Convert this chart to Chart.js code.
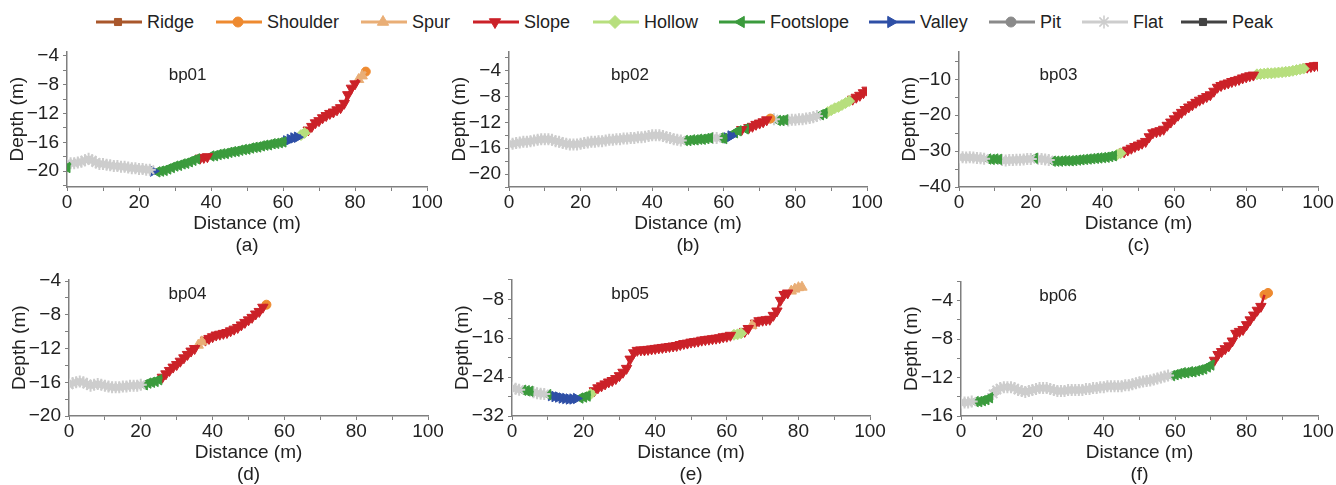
<!DOCTYPE html>
<html>
<head>
<meta charset="utf-8">
<script src="https://cdn.jsdelivr.net/npm/chart.js"></script>
<style>
  html, body { margin: 0; padding: 0; background: #fff; }
  body { width: 1336px; height: 485px; position: relative; overflow: hidden;
         font-family: "Liberation Sans", Arial, sans-serif; color: #222; }
  .panel { position: absolute; }
  .legend-item { position: absolute; top: 10px; height: 24px; display: flex; align-items: center;
                 font-size: 18px; white-space: nowrap; }
  .legend-item canvas { margin-right: 5px; }
</style>
</head>
<body>
<div id="legend"></div>
<div id="panels"></div>
<script>
  // landform classes (legend order)
  const classNames = ['Ridge', 'Shoulder', 'Spur', 'Slope', 'Hollow', 'Footslope', 'Valley', 'Pit', 'Flat', 'Peak'];
  const classColors = ['#a9572b', '#ee8a30', '#e9ae76', '#cb2128', '#b7df7e', '#3b9b3d', '#2e4fa6', '#8a8a8a', '#cdcdcd', '#424242'];
  const classMarkers = ['rect', 'circle', 'triangle', 'triangle', 'rectRot', 'triangle', 'triangle', 'circle', 'star', 'rect'];
  const classRotation = [0, 0, 0, 180, 0, 270, 90, 0, 0, 0];

  // profiles are sampled every 1 m along distance
  const sampleStep = 1;
  const xRange = [0, 100];
  const xTicks = [0, 20, 40, 60, 80, 100];
  const xMinorTicks = [10, 30, 50, 70, 90];

  // bp01
  const bp01Depth = [-19.5,
    -18.9, -18.9, -18.8, -18.7, -18.5, -18.3, -18.5, -18.8, -19.0, -19.0, -19.1, -19.2, -19.3, -19.3, -19.4, -19.4, -19.5, -19.6, -19.6, -19.7, -19.7, -19.8, -19.8,
    -20.0,
    -20.1, -20.0, -19.9, -19.7, -19.5, -19.3, -19.2, -19.0, -18.9, -18.7, -18.5, -18.3,
    -18.2, -18.1, -18.0,
    -17.9, -17.85, -17.7, -17.6, -17.55, -17.4, -17.3, -17.25, -17.1, -17.0, -16.95, -16.8, -16.7, -16.65, -16.5, -16.4, -16.35, -16.2, -16.15, -16.05, -15.95,
    -15.8, -15.6, -15.4, -15.3,
    -15.0, -14.7,
    -14.3, -13.8, -13.3, -13.0, -12.6, -12.3, -12.0, -11.8, -11.5, -11.2, -10.6, -9.4, -8.5, -7.9,
    -7.3, -6.8,
    -6.2];
  const bp01Classes = [['Footslope', 1], ['Flat', 23], ['Valley', 1], ['Footslope', 12], ['Slope', 3], ['Footslope', 21],
    ['Valley', 4], ['Hollow', 2], ['Slope', 14], ['Spur', 2], ['Shoulder', 1]];
  const bp01Range = [-22.2, -3.4];
  const bp01YTicks = [-20, -16, -12, -8, -4];
  const bp01YMinor = [-22, -18, -14, -10, -6];

  // bp02
  const bp02Depth = [
    -15.4, -15.3, -15.2, -15.1, -15.0, -15.0, -14.9, -14.8, -14.7, -14.6, -14.6, -14.6, -14.7, -14.9, -15.0, -15.2, -15.3, -15.4, -15.4, -15.4,
    -15.3, -15.2, -15.1, -15.0, -15.0, -14.9, -14.9, -14.8, -14.7, -14.7, -14.6, -14.6, -14.5, -14.5, -14.4, -14.4, -14.3, -14.3, -14.2, -14.1,
    -14.0, -14.0, -14.0, -14.1, -14.3, -14.4, -14.6, -14.7, -14.8,
    -14.8, -14.8, -14.7, -14.7, -14.6, -14.6, -14.5, -14.4,
    -14.4, -14.4,
    -14.4, -14.5,
    -14.4, -14.1,
    -13.6, -13.3,
    -13.1,
    -13.0,
    -12.8, -12.6, -12.3, -12.1, -11.9, -11.6,
    -11.4,
    -11.5,
    -11.7, -11.7, -11.6,
    -11.7, -11.6, -11.6, -11.5, -11.5, -11.4, -11.3, -11.2, -11.0,
    -10.8, -10.6,
    -10.4, -10.1, -9.8, -9.6, -9.3, -9.0, -8.7,
    -8.4, -8.1, -7.8, -7.4, -7.0];
  const bp02Classes = [['Flat', 49], ['Footslope', 8], ['Flat', 2], ['Footslope', 2], ['Valley', 2], ['Footslope', 2], ['Slope', 1],
    ['Footslope', 1], ['Slope', 6], ['Shoulder', 1], ['Flat', 1], ['Footslope', 3], ['Flat', 9], ['Footslope', 2], ['Hollow', 7], ['Slope', 5]];
  const bp02Range = [-22, -1];
  const bp02YTicks = [-20, -16, -12, -8, -4];
  const bp02YMinor = [-22, -18, -14, -10, -6, -2];

  // bp03
  const bp03Depth = [
    -31.7, -31.7, -31.8, -31.7, -31.8, -31.9, -32.0, -32.1,
    -32.2, -32.3, -32.2, -32.3,
    -32.5, -32.6, -32.5, -32.5, -32.4, -32.4, -32.3, -32.2, -32.2,
    -32.0,
    -32.1, -32.2, -32.3, -32.5,
    -32.8, -32.8, -32.8, -32.7, -32.7, -32.7, -32.6, -32.5, -32.4, -32.3, -32.2, -32.1, -32.0, -31.9, -31.8, -31.7, -31.5, -31.3,
    -31.0, -30.6,
    -30.2, -29.7, -29.2, -28.7, -28.3, -27.8, -27.3, -26.0, -24.9, -24.6, -24.3, -23.9, -22.8, -21.9, -21.0, -20.0, -19.2, -18.4, -17.7,
    -17.1, -16.4, -15.8, -15.3, -14.8, -14.3, -13.3, -12.2, -11.7, -11.3, -11.0, -10.6, -10.3, -10.0, -9.6, -9.3, -9.0, -8.8,
    -8.6, -8.5, -8.4, -8.3, -8.3, -8.2, -8.1, -8.0, -7.9, -7.8, -7.6, -7.4, -7.2, -7.0,
    -6.6, -6.4, -6.2, -6.1];
  const bp03Classes = [['Flat', 8], ['Footslope', 4], ['Flat', 9], ['Footslope', 1], ['Flat', 4], ['Footslope', 18],
    ['Hollow', 2], ['Slope', 37], ['Hollow', 14], ['Slope', 4]];
  const bp03Range = [-40, -2.2];
  const bp03YTicks = [-40, -30, -20, -10];
  const bp03YMinor = [-35, -25, -15, -5];

  // bp04
  const bp04Depth = [
    -16.3, -16.1, -16.0, -15.9, -16.0, -16.2, -16.4, -16.3, -16.2, -16.3, -16.4, -16.5, -16.6, -16.6, -16.6, -16.5, -16.5, -16.4, -16.4, -16.4, -16.3,
    -16.3, -16.1, -16.0, -15.9, -15.7,
    -15.4, -15.0, -14.6, -14.2, -13.9, -13.5, -13.1, -12.7, -12.3, -12.0,
    -11.6, -11.2,
    -11.0, -10.8, -10.6, -10.4, -10.3, -10.2, -10.1, -9.9, -9.7, -9.5, -9.2, -8.9, -8.6, -8.3, -7.9, -7.6, -7.1,
    -6.8];
  const bp04Classes = [['Flat', 21], ['Footslope', 5], ['Slope', 10], ['Spur', 2], ['Slope', 17], ['Shoulder', 1]];
  const bp04Range = [-20, -3.8];
  const bp04YTicks = [-20, -16, -12, -8, -4];
  const bp04YMinor = [-18, -14, -10, -6];

  // bp05
  const bp05Depth = [
    -26.2, -26.4, -26.6,
    -26.7, -26.8, -26.9,
    -27.1, -27.3, -27.4, -27.5,
    -27.6,
    -27.8, -28.0, -28.1, -28.3, -28.4, -28.5, -28.5, -28.4,
    -28.3, -28.1, -27.9,
    -27.5,
    -26.8, -26.2, -25.8, -25.4, -25.0, -24.7, -24.3, -23.7, -23.0, -22.2, -20.3, -19.0, -18.5, -18.4, -18.4, -18.3, -18.2, -18.1, -18.0,
    -17.9, -17.8, -17.7, -17.6, -17.5, -17.3, -17.1, -17.0, -16.8, -16.7, -16.6, -16.4, -16.3, -16.2, -16.1, -16.0, -15.9, -15.7, -15.6, -15.4,
    -15.3, -15.2, -15.0,
    -14.6, -14.0,
    -13.4,
    -12.9, -12.4, -12.3, -12.2, -12.1, -11.3, -10.4, -8.2, -7.0, -6.7,
    -6.3, -5.9, -5.6, -5.5];
  const bp05Classes = [['Flat', 3], ['Footslope', 3], ['Flat', 4], ['Footslope', 1], ['Valley', 8], ['Footslope', 3], ['Hollow', 1],
    ['Slope', 39], ['Hollow', 3], ['Slope', 2], ['Spur', 1], ['Slope', 10], ['Spur', 4]];
  const bp05Range = [-32, -3.9];
  const bp05YTicks = [-32, -24, -16, -8];
  const bp05YMinor = [-28, -20, -12, -4];

  // bp06
  const bp06Depth = [
    -14.6, -14.6, -14.6, -14.5,
    -14.5, -14.5, -14.4, -14.3, -14.1,
    -13.7, -13.3, -13.1, -13.0, -13.0, -13.0, -13.1, -13.3, -13.4, -13.5, -13.4, -13.3, -13.2, -13.1, -13.1, -13.1, -13.2, -13.3, -13.4, -13.4,
    -13.4, -13.3, -13.3, -13.3, -13.3, -13.3, -13.2, -13.2, -13.1, -13.1, -13.0, -13.0, -12.9, -12.9, -12.9, -12.9, -12.9, -12.8, -12.8, -12.7,
    -12.6, -12.5, -12.4, -12.35, -12.3, -12.2, -12.1, -12.0, -11.9, -11.8,
    -11.8, -11.7, -11.6, -11.5, -11.5, -11.4, -11.4, -11.3, -11.2, -11.1, -10.9, -10.7,
    -10.2, -9.6, -9.3, -9.0, -8.7, -8.2, -7.4, -7.2, -7.0, -6.5, -6.0, -5.5, -5.0, -4.6,
    -3.4, -3.2];
  const bp06Classes = [['Flat', 4], ['Footslope', 5], ['Flat', 50], ['Footslope', 12], ['Slope', 14], ['Shoulder', 2]];
  const bp06Range = [-16, -2];
  const bp06YTicks = [-16, -12, -8, -4];
  const bp06YMinor = [-14, -10, -6, -2];

  const FONT = '"Liberation Sans", Arial, sans-serif';
  const AXIS_GREY = '#7f7f7f';
  const TEXT = '#222';

  // where each panel sits on the page: [left, top, width, height], and the label spot inside the plot
  const panels = [
    { name: 'bp01', tag: '(a)', depth: bp01Depth, classes: bp01Classes, range: bp01Range, yTicks: bp01YTicks, yMinor: bp01YMinor, box: [0, 36, 447, 223], spot: [0.335, 0.18] },
    { name: 'bp02', tag: '(b)', depth: bp02Depth, classes: bp02Classes, range: bp02Range, yTicks: bp02YTicks, yMinor: bp02YMinor, box: [442, 36, 445, 223], spot: [0.338, 0.18] },
    { name: 'bp03', tag: '(c)', depth: bp03Depth, classes: bp03Classes, range: bp03Range, yTicks: bp03YTicks, yMinor: bp03YMinor, box: [892, 36, 446, 223], spot: [0.277, 0.18] },
    { name: 'bp04', tag: '(d)', depth: bp04Depth, classes: bp04Classes, range: bp04Range, yTicks: bp04YTicks, yMinor: bp04YMinor, box: [2, 264, 446, 224], spot: [0.33, 0.11] },
    { name: 'bp05', tag: '(e)', depth: bp05Depth, classes: bp05Classes, range: bp05Range, yTicks: bp05YTicks, yMinor: bp05YMinor, box: [445, 264, 445, 224], spot: [0.33, 0.11] },
    { name: 'bp06', tag: '(f)', depth: bp06Depth, classes: bp06Classes, range: bp06Range, yTicks: bp06YTicks, yMinor: bp06YMinor, box: [894, 266, 444, 222], spot: [0.272, 0.11] }
  ];

  const fmt = v => (v < 0 ? '\u2212' + Math.abs(v) : String(v));

  // marker size per shape
  function markerRadius(style) {
    if (style === 'circle') return 4.5;
    if (style === 'rectRot') return 5.5;
    return 6;
  }

  // one dataset per run of the same class; the next point is added (hidden) so the line stays joined
  function buildDatasets(depth, runs) {
    const sets = [];
    let start = 0;
    runs.forEach(([cls, n]) => {
      const k = classNames.indexOf(cls);
      const last = Math.min(start + n, depth.length - 1);
      const pts = [];
      for (let i = start; i <= last; i++) pts.push({ x: i * sampleStep, y: depth[i] });
      const joinIdx = start + n <= depth.length - 1 ? pts.length - 1 : -1;
      const r = markerRadius(classMarkers[k]);
      sets.push({
        label: cls,
        data: pts,
        showLine: true,
        borderColor: classColors[k],
        backgroundColor: classColors[k],
        borderWidth: 2.5,
        pointStyle: classMarkers[k],
        rotation: classRotation[k],
        pointRadius: c => (c.dataIndex === joinIdx ? 0 : r),
        pointBorderWidth: classMarkers[k] === 'star' ? 2 : 1,
        pointBorderColor: classColors[k],
        pointBackgroundColor: classColors[k],
        tension: 0
      });
      start += n;
    });
    return sets;
  }

  const panelLabel = {
    id: 'panelLabel',
    afterDatasetsDraw(chart, args, opts) {
      const { ctx, chartArea: a } = chart;
      ctx.save();
      ctx.font = '17px ' + FONT;
      ctx.fillStyle = TEXT;
      ctx.textAlign = 'center';
      ctx.textBaseline = 'middle';
      ctx.fillText(opts.text, a.left + opts.fx * a.width, a.top + opts.fy * a.height);
      ctx.restore();
    }
  };

  const holder = document.getElementById('panels');
  panels.forEach(p => {
    const div = document.createElement('div');
    div.className = 'panel';
    div.style.left = p.box[0] + 'px';
    div.style.top = p.box[1] + 'px';
    div.style.width = p.box[2] + 'px';
    div.style.height = p.box[3] + 'px';
    const canvas = document.createElement('canvas');
    div.appendChild(canvas);
    holder.appendChild(div);

    const yAll = [...p.yTicks, ...p.yMinor].sort((a, b) => a - b);
    const xAll = [...xTicks, ...xMinorTicks].sort((a, b) => a - b);

    new Chart(canvas, {
      type: 'scatter',
      data: { datasets: buildDatasets(p.depth, p.classes) },
      options: {
        responsive: true,
        maintainAspectRatio: false,
        animation: false,
        events: [],
        layout: { padding: { top: 14, right: 20, left: 0, bottom: 0 } },
        scales: {
          x: {
            type: 'linear',
            min: xRange[0],
            max: xRange[1],
            afterBuildTicks: s => { s.ticks = xAll.map(v => ({ value: v })); },
            afterFit: s => { s.height = 72; },
            ticks: {
              color: TEXT, font: { size: 19, family: FONT }, padding: 0, maxRotation: 0, autoSkip: false,
              callback: v => (xTicks.includes(v) ? fmt(v) : '')
            },
            grid: { drawOnChartArea: false, drawTicks: true, tickLength: 4, color: AXIS_GREY },
            border: { display: true, color: AXIS_GREY, width: 1.5 },
            title: {
              display: true, text: ['Distance (m)', p.tag], color: TEXT,
              font: { size: 19, family: FONT, lineHeight: 1.18 }, padding: { top: 0, bottom: 2 }
            }
          },
          y: {
            type: 'linear',
            min: p.range[0],
            max: p.range[1],
            afterBuildTicks: s => { s.ticks = yAll.map(v => ({ value: v })); },
            afterFit: s => { s.width = 67; },
            ticks: {
              color: TEXT, font: { size: 19, family: FONT }, padding: 4, autoSkip: false,
              callback: v => (p.yTicks.includes(v) ? fmt(v) : '')
            },
            grid: { drawOnChartArea: false, drawTicks: true, tickLength: 4, color: AXIS_GREY },
            border: { display: true, color: AXIS_GREY, width: 1.5 },
            title: {
              display: true, text: 'Depth (m)', color: TEXT,
              font: { size: 19, family: FONT, lineHeight: 1.18 }, padding: { top: 7, bottom: 0 }
            }
          }
        },
        plugins: {
          legend: { display: false },
          tooltip: { enabled: false },
          panelLabel: { text: p.name, fx: p.spot[0], fy: p.spot[1] }
        }
      },
      plugins: [panelLabel]
    });
  });

  // shared legend across the top
  const legendX = [96, 216, 361, 473, 593, 719, 869, 989, 1082, 1181];
  const legend = document.getElementById('legend');
  classNames.forEach((name, k) => {
    const item = document.createElement('div');
    item.className = 'legend-item';
    item.style.left = legendX[k] + 'px';
    const c = document.createElement('canvas');
    c.width = 46; c.height = 24;
    const g = c.getContext('2d');
    g.strokeStyle = classColors[k];
    g.fillStyle = classColors[k];
    g.lineWidth = 3;
    g.beginPath(); g.moveTo(0, 12); g.lineTo(46, 12); g.stroke();
    g.lineWidth = classMarkers[k] === 'star' ? 1.6 : 1;
    const r = classMarkers[k] === 'circle' || classMarkers[k] === 'rect' ? 5 : 6.5;
    if (Chart.helpers && Chart.helpers.drawPoint) {
      Chart.helpers.drawPoint(g, { pointStyle: classMarkers[k], rotation: classRotation[k], radius: r, borderWidth: g.lineWidth }, 22, 12);
    } else {
      g.beginPath(); g.arc(22, 12, 5, 0, Math.PI * 2); g.fill();
    }
    const span = document.createElement('span');
    span.textContent = name;
    item.appendChild(c);
    item.appendChild(span);
    legend.appendChild(item);
  });
</script>
</body>
</html>
